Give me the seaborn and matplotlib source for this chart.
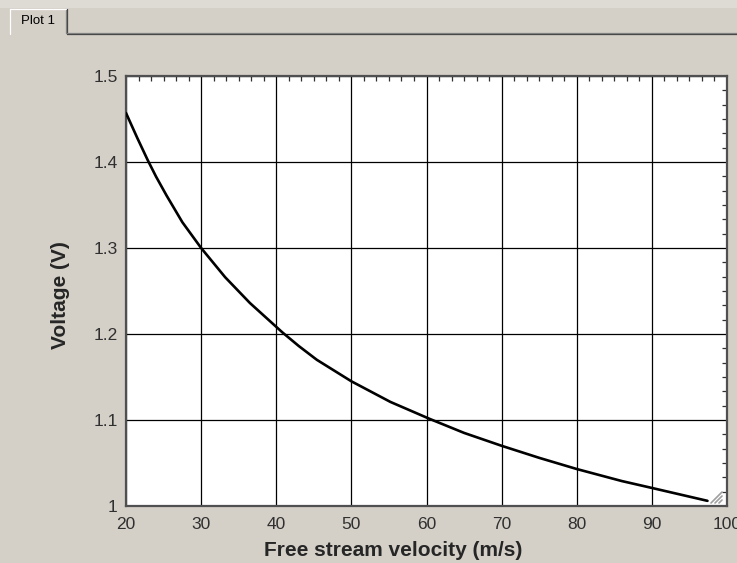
"""EES-style plot window: hot-wire voltage vs free stream velocity."""

import matplotlib

matplotlib.use("Agg")
import matplotlib.pyplot as plt
import pandas as pd
import seaborn as sns
from matplotlib.lines import Line2D
from matplotlib.patches import Rectangle
from matplotlib.ticker import MultipleLocator

# values
velocity = [20.0, 21.5, 22.9, 24.0, 25.4, 27.5, 30.0, 33.2, 36.5, 40.8, 43.0, 45.4, 50.0, 55.2, 60.5,
            65.0, 70.0, 75.0, 80.0, 86.0, 90.0, 97.4]
voltage = [1.457, 1.428, 1.402, 1.383, 1.361, 1.330, 1.300, 1.266, 1.236, 1.202, 1.186, 1.170, 1.145,
           1.121, 1.101, 1.085, 1.070, 1.056, 1.043, 1.029, 1.021, 1.006]

x_ticks = [20, 30, 40, 50, 60, 70, 80, 90, 100]
y_ticks = [1.0, 1.1, 1.2, 1.3, 1.4, 1.5]
y_tick_labels = ["1", "1.1", "1.2", "1.3", "1.4", "1.5"]
x_label = "Free stream velocity (m/s)"
y_label = "Voltage (V)"
tab_label = "Plot 1"

PANEL = "#D4D0C8"

sns.set_theme(style="white")
plt.rcParams["font.family"] = ["Liberation Sans", "DejaVu Sans"]

fig = plt.figure(figsize=(7.37, 5.63), dpi=100, facecolor=PANEL)
W, H = 737, 563


def fx(px):
    return px / W


def fy(py):
    return 1 - py / H


# window chrome: strip above the tab, tab outline, tab baseline
fig.patches.append(Rectangle((0, fy(8)), 1, 8 / H, transform=fig.transFigure, fc="#DEDBD5", ec="none", zorder=0))
fig.patches.append(Rectangle((fx(10), fy(34)), 57 / W, 26 / H, transform=fig.transFigure, fc=PANEL, ec="none", zorder=1))
chrome = [
    ((10, 10), (34, 9), "white"),
    ((10, 66), (9, 9), "white"),
    ((67, 67), (9, 34), "#404040"),
    ((66, 66), (10, 33), "#808080"),
    ((67, 737), (34, 34), "#404040"),
    ((67, 737), (33, 33), "#808080"),
]
for xs, ys, col in chrome:
    fig.lines.append(Line2D([fx(v) for v in xs], [fy(v) for v in ys], transform=fig.transFigure, color=col, lw=0.9))
fig.text(fx(38), fy(21), tab_label, ha="center", va="center", fontsize=9.5, color="black")

ax = fig.add_axes([fx(126), fy(506), (727 - 126) / W, (506 - 76) / H])
ax.set_facecolor("white")

data = pd.DataFrame({"velocity": velocity, "voltage": voltage})
sns.lineplot(data=data, x="velocity", y="voltage", color="black", lw=1.9, ax=ax, zorder=3)

ax.set_xlim(20, 100)
ax.set_ylim(1.0, 1.5)
ax.set_xticks(x_ticks)
ax.set_yticks(y_ticks)
ax.set_yticklabels(y_tick_labels)
ax.xaxis.set_minor_locator(MultipleLocator(10 / 6))
ax.yaxis.set_minor_locator(MultipleLocator(0.1 / 6))
ax.grid(True, which="major", color="black", lw=0.9)
ax.tick_params(which="both", direction="in", top=True, right=True, color="#303030")
ax.tick_params(which="major", length=0, labelsize=12.5, labelcolor="#303030")
ax.tick_params(which="minor", length=3.5, width=0.9)
ax.tick_params(axis="y", pad=6)
ax.tick_params(axis="x", pad=8)
for side in ax.spines.values():
    side.set_color("#505050")
    side.set_linewidth(1.6)

ax.set_xlabel("")
ax.set_ylabel("")
fig.text(fx(393), fy(550), x_label, ha="center", va="center", fontsize=15, fontweight="bold")
fig.text(fx(61), fy(295), y_label, ha="center", va="center", fontsize=15, fontweight="bold", rotation=90)

# resize grip in the corner
for k in range(3):
    off = k * 4
    fig.lines.append(
        Line2D([fx(711 + off), fx(722)], [fy(503), fy(492 + off)], transform=fig.transFigure, color="#A0A0A0", lw=1.2)
    )

fig.savefig("out.png", dpi=100, facecolor=PANEL)
